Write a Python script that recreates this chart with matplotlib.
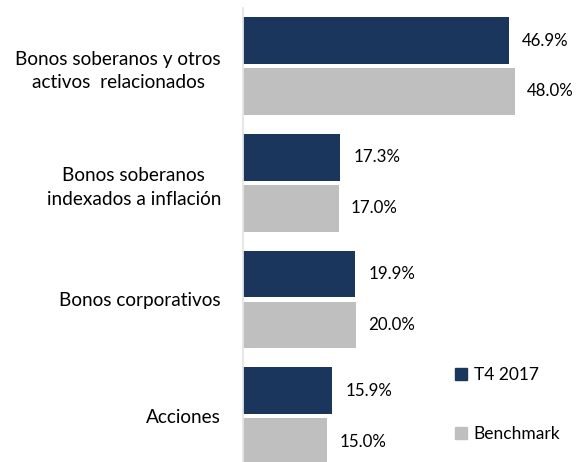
import matplotlib.pyplot as plt
from matplotlib.patches import Patch

plt.rcParams['font.family'] = ['Lato', 'DejaVu Sans']

# Data
categories = ['Bonos soberanos y otros\nactivos  relacionados',
              'Bonos soberanos\nindexados a inflación',
              'Bonos corporativos',
              'Acciones']
t4_2017 = [46.9, 17.3, 19.9, 15.9]
benchmark = [48.0, 17.0, 20.0, 15.0]

navy = '#1b365d'
grey = '#bfbfbf'

fig = plt.figure(figsize=(5.83, 4.62), dpi=100)
ax = fig.add_axes([0.415, 0.0, 0.585, 1.0])

pos = list(range(len(categories)))
h = 0.40
off = 0.218
ax.barh([p - off for p in pos], t4_2017, height=h, color=navy)
ax.barh([p + off for p in pos], benchmark, height=h, color=grey)

for p, v in zip(pos, t4_2017):
    ax.text(v + 2.3, p - off, '{:.1f}%'.format(v), va='center', ha='left', fontsize=12.2)
for p, v in zip(pos, benchmark):
    ax.text(v + 2.2, p + off, '{:.1f}%'.format(v), va='center', ha='left', fontsize=12.2)

ax.set_xlim(0, 60)
ax.set_ylim(3.393, -0.566)
ax.set_yticks(pos)
ax.set_yticklabels(categories, fontsize=13.7, multialignment='center', linespacing=1.45)
ax.tick_params(axis='y', length=0, pad=15)
ax.set_xticks([])
for s in ['top', 'right', 'bottom', 'left']:
    ax.spines[s].set_visible(False)
# light vertical axis line
ax.axvline(0, ymin=0, ymax=0.983, color='#e6e6e6', lw=2)

handles = [Patch(color=navy, label='T4 2017'), Patch(color=grey, label='Benchmark')]
fig.legend(handles=handles, loc='upper left', bbox_to_anchor=(0.765, 0.225),
           frameon=False, fontsize=12.5, handlelength=0.7, handleheight=0.7,
           handletextpad=0.4, labelspacing=2.5, borderpad=0)

fig.savefig('out.png', dpi=100)
